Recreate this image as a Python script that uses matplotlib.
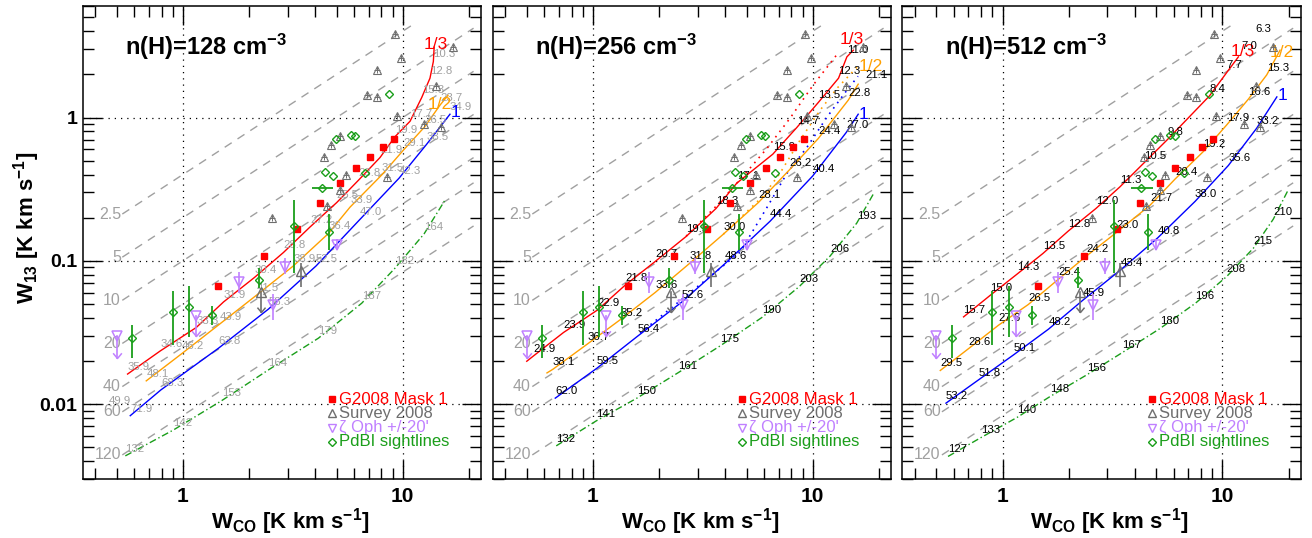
import numpy as np
import matplotlib
matplotlib.use("Agg")
import matplotlib.pyplot as plt
from matplotlib.path import Path
from matplotlib.ticker import LogLocator, NullFormatter, FuncFormatter

plt.rcParams["font.family"] = ["Liberation Sans", "DejaVu Sans"]
plt.rcParams["mathtext.fontset"] = "custom"
plt.rcParams["mathtext.rm"] = "Liberation Sans"
plt.rcParams["mathtext.it"] = "Liberation Sans:italic"
plt.rcParams["mathtext.bf"] = "Liberation Sans:bold"

DENSITIES = [128, 256, 512]
RATIOS = [2.5, 5, 10, 20, 40, 60, 120]

# observations (same in every panel)
G2008_WCO = [9.1, 8.1, 7.1, 6.1, 5.2, 4.2, 3.3, 2.35, 1.45]
G2008_W13 = [0.71, 0.62, 0.53, 0.445, 0.35, 0.254, 0.166, 0.108, 0.0665]

SURVEY_WCO = [9.2, 9.8, 7.6, 6.9, 7.6, 9.4, 5.2, 4.7, 4.4, 5.5, 8.5, 5.2, 4.5, 2.55,
              17.0, 14.2, 12.5, 14.9]
SURVEY_W13 = [3.85, 2.6, 2.15, 1.43, 1.38, 1.02, 0.745, 0.645, 0.53, 0.40, 0.385, 0.31,
              0.24, 0.20, 3.1, 1.65, 0.90, 0.855]
SURVEY_LIM_WCO = [2.26]
SURVEY_LIM_W13 = [0.061]
SURVEY_LIM_TIP = [0.044]
SURVEY_ERR_WCO = [3.44]
SURVEY_ERR_W13 = [0.085]
SURVEY_ERR_LO = [0.0657]
SURVEY_ERR_HI = [0.0962]

ZOPH_LIM_WCO = [0.50, 1.15]
ZOPH_LIM_W13 = [0.030, 0.041]
ZOPH_LIM_TIP = [0.021, 0.0297]
ZOPH_WCO = [1.79, 2.57, 2.92, 5.0]
ZOPH_W13 = [0.071, 0.049, 0.091, 0.128]
ZOPH_LO = [0.0594, 0.0385, 0.0815, 0.1186]
ZOPH_HI = [0.0836, 0.0591, 0.1038, 0.143]

PDBI_WCO = [0.586, 0.90, 1.07, 1.355, 2.21, 4.6, 3.2, 4.28, 6.7, 4.43, 4.8, 4.96, 5.8, 6.07, 8.7]
PDBI_W13 = [0.0287, 0.044, 0.0477, 0.0417, 0.074, 0.158, 0.174, 0.32, 0.41, 0.417, 0.39,
            0.71, 0.76, 0.74, 1.47]
PDBI_W13_LO = [0.0210, 0.0258, 0.0293, 0.0356, 0.0644, 0.1186, 0.0819, 0.32, 0.41, 0.417,
               0.39, 0.71, 0.76, 0.74, 1.47]
PDBI_W13_HI = [0.0359, 0.0614, 0.0665, 0.0482, 0.0888, 0.2138, 0.265, 0.32, 0.41, 0.417,
               0.39, 0.71, 0.76, 0.74, 1.47]
PDBI_WCO_LO = [0.586, 0.90, 1.07, 1.355, 2.21, 4.6, 3.2, 3.86, 6.7, 4.43, 4.8, 4.96, 5.8, 6.07, 8.7]
PDBI_WCO_HI = [0.586, 0.90, 1.07, 1.355, 2.21, 4.6, 3.2, 4.84, 6.7, 4.43, 4.8, 4.96, 5.8, 6.07, 8.7]

# model tracks: (W_CO, W_13, label)
RED_128 = [(0.560, 0.0162, "35.9"), (0.789, 0.0235, "34.6"), (1.149, 0.0342, "33.3"),
           (1.53, 0.0516, "31.9"), (2.116, 0.0765, "30.4"), (2.867, 0.1143, "28.8"),
           (3.79, 0.1724, "27.2"), (5.01, 0.2551, "25.5"), (6.29, 0.365, "23.8"),
           (7.885, 0.526, "21.9"), (9.22, 0.7345, "19.9"), (10.8, 0.942, "17.7"),
           (12.2, 1.379, "15.3"), (13.3, 1.88, "12.8"), (13.78, 2.459, "10.3"),
           (13.9, 3.1, "")]
ORANGE_128 = [(0.681, 0.01452, "48.1"), (0.99, 0.02254, "46.2"), (1.467, 0.0361, "43.9"),
              (2.17, 0.0578, "41.5"), (3.18, 0.0921, "38.9"), (4.59, 0.155, "36.4"),
              (5.76, 0.237, "33.9"), (8.03, 0.3976, "31.5"), (10.06, 0.591, "29.1"),
              (12.6, 0.863, "26.5"), (14.8, 1.224, "23.7"), (16.07, 1.43, "")]
BLUE_128 = [(0.576, 0.0083, "71.9"), (0.794, 0.01256, "68.3"), (1.452, 0.02455, "63.8"),
            (2.449, 0.046, "58.3"), (4.035, 0.0921, "52.5"), (6.40, 0.1951, "47.0"),
            (9.62, 0.377, "42.3"), (12.85, 0.651, "38.5"), (16.4, 1.054, "34.9")]
GREEN_128 = [(0.547, 0.00435, "132"), (0.906, 0.0066, "142"), (1.504, 0.01059, "153"),
             (2.449, 0.01732, "164"), (4.135, 0.02884, "179"), (6.51, 0.0506, "187"),
             (9.22, 0.0888, "182"), (12.5, 0.154, "164"), (15.57, 0.265, "")]
STRAY_128 = [(0.459, 0.00936, "49.9")]

RED_256 = [(0.50, 0.0199, ""), (0.537, 0.0217, "24.9"), (0.735, 0.0316, "23.9"),
           (1.046, 0.0452, "22.9"), (1.402, 0.0676, "21.8"), (1.92, 0.0989, "20.7"),
           (2.655, 0.1478, "19.5"), (3.63, 0.2317, "18.3"), (4.51, 0.3479, "17.1"),
           (6.58, 0.5545, "15.9"), (8.46, 0.851, "14.7"), (10.6, 1.273, "13.5"),
           (13.1, 1.88, "12.3"), (14.3, 2.65, "11.0"), (15.3, 2.95, "")]
ORANGE_256 = [(0.618, 0.0165, ""), (0.658, 0.01751, "38.1"), (0.942, 0.0262, "36.7"),
              (1.331, 0.0388, "35.2"), (1.92, 0.0601, "33.6"), (2.75, 0.0958, "31.8"),
              (3.92, 0.1533, "30.0"), (5.66, 0.2551, "28.1"), (7.83, 0.4309, "26.2"),
              (10.6, 0.7136, "24.4"), (14.5, 1.32, "22.8"), (16.1, 1.708, "")]
BLUE_256 = [(0.674, 0.0110, "62.0"), (1.043, 0.0178, "59.5"), (1.598, 0.0298, "56.4"),
            (2.54, 0.0516, "52.6"), (3.996, 0.0958, "48.6"), (6.40, 0.189, "44.4"),
            (10.0, 0.391, "40.4"), (14.2, 0.786, "27.0"), (16.1, 1.054, "")]
GREEN_256 = [(0.681, 0.00511, "132"), (1.035, 0.00763, "141"), (1.585, 0.0110, "150"),
             (2.449, 0.0166, "161"), (3.79, 0.02547, "175"), (5.87, 0.0402, "190"),
             (8.69, 0.0662, "203"), (11.98, 0.1077, "206"), (15.85, 0.183, "193"),
             (19.0, 0.298, "")]
RED_DOT_256 = [(2.655, 0.1485), (3.635, 0.2404), (4.82, 0.389), (6.20, 0.6105),
               (7.885, 0.989), (10.03, 1.68), (13.03, 2.81)]
ORANGE_DOT_256 = [(3.92, 0.1533), (5.94, 0.2823), (7.10, 0.4087), (8.75, 0.694),
                  (10.8, 1.124), (12.9, 1.60), (15.9, 2.244)]
BLUE_DOT_256 = [(1.64, 0.0313), (4.67, 0.1148), (6.20, 0.2366), (7.64, 0.4087),
                (9.42, 0.6205), (11.6, 1.005), (14.3, 1.55), (16.07, 1.94)]
STRAY_256 = [(17.3, 1.755, "21.1")]

RED_512 = [(0.665, 0.0406, "15.7"), (0.879, 0.0574, "15.0"), (1.163, 0.0806, "14.3"),
           (1.526, 0.1124, "13.5"), (1.995, 0.1617, "12.8"), (2.66, 0.2317, "12.0"),
           (3.415, 0.3273, "11.3"), (4.40, 0.482, "10.5"), (5.65, 0.706, "9.8"),
           (8.74, 1.415, "8.4"), (10.47, 2.06, "7.7"), (11.83, 2.65, "")]
ORANGE_512 = [(0.521, 0.01716, "29.5"), (0.700, 0.02435, "28.6"), (0.959, 0.03553, "27.6"),
              (1.309, 0.0495, "26.5"), (1.791, 0.0741, "25.4"), (2.418, 0.1085, "24.2"),
              (3.31, 0.1583, "23.0"), (4.69, 0.2443, "21.7"), (6.10, 0.3723, "20.4"),
              (8.20, 0.579, "19.2"), (10.47, 0.888, "17.9"), (13.13, 1.342, "16.6"),
              (15.92, 1.983, "15.3"), (18.3, 2.95, "")]
BLUE_512 = [(0.553, 0.01015, "53.2"), (0.778, 0.01476, "51.8"), (1.122, 0.02204, "50.1"),
            (1.618, 0.03332, "48.2"), (2.327, 0.0533, "45.9"), (3.446, 0.0864, "43.4"),
            (5.08, 0.1445, "40.8"), (7.51, 0.2594, "38.0"), (10.65, 0.4624, "35.6"),
            (14.33, 0.842, "33.2"), (17.7, 1.392, "")]
GREEN_512 = [(0.565, 0.00431, "127"), (0.800, 0.00585, "133"), (1.163, 0.00806, "140"),
             (1.647, 0.0113, "148"), (2.418, 0.0160, "156"), (3.512, 0.02291, "167"),
             (5.21, 0.0337, "180"), (7.55, 0.0506, "196"), (10.47, 0.0777, "208"),
             (13.84, 0.1224, "215"), (17.05, 0.1951, "210"), (19.83, 0.3074, "")]
STRAY_512 = [(12.25, 2.84, "7.0"), (14.08, 3.71, "6.3")]

RED = "#ff0000"
ORANGE = "#ffa000"
BLUE = "#0000ff"
GREEN = "#1a9e1a"
VIOLET = "#c080ff"
SURVEY = "#6e6e6e"
GUIDE = "#a0a0a0"

CHEVRON = Path([(-1.0, 1.2), (0.0, 0.0), (1.0, 1.2)], [Path.MOVETO, Path.LINETO, Path.LINETO])


def draw_track(ax, pts, color, labcolor, ls="-", tag=None, tag_off=(0, 0)):
    xs = [p[0] for p in pts]
    ys = [p[1] for p in pts]
    ax.plot(xs, ys, color=color, lw=1.0, ls=ls, zorder=3)
    for x, y, lab in pts:
        if lab:
            ax.annotate(lab, (x, y), xytext=(0, 2.9), textcoords="offset points",
                        ha="left", va="baseline", fontsize=8.2, color=labcolor, zorder=4)
    if tag:
        ax.annotate(tag, (xs[-1], ys[-1]), xytext=tag_off, textcoords="offset points",
                    ha="center", va="center", fontsize=12.5, color=color, zorder=4)


def draw_limits(ax, xs, ys, tips, color, ms):
    for x, y, t in zip(xs, ys, tips):
        ax.plot([x, x], [y, t], color=color, lw=1.2, zorder=5)
    ax.plot(xs, tips, ls="none", marker=CHEVRON, ms=ms, mfc="none", mec=color, mew=1.1, zorder=5)


def draw_observations(ax):
    ax.plot(G2008_WCO, G2008_W13, "s", color=RED, ms=4.3, zorder=6)
    ax.plot(SURVEY_WCO, SURVEY_W13, "^", mfc="none", mec=SURVEY, ms=5.6, mew=0.8, zorder=6)
    ax.plot(SURVEY_WCO, SURVEY_W13, "+", color=SURVEY, ms=4, mew=0.7, zorder=6)

    ax.plot(SURVEY_LIM_WCO, SURVEY_LIM_W13, "^", mfc="none", mec=SURVEY, ms=7, mew=1.0, zorder=6)
    draw_limits(ax, SURVEY_LIM_WCO, SURVEY_LIM_W13, SURVEY_LIM_TIP, SURVEY, 7)
    se = np.array(SURVEY_ERR_W13)
    ax.errorbar(SURVEY_ERR_WCO, se, yerr=[se - np.array(SURVEY_ERR_LO), np.array(SURVEY_ERR_HI) - se],
                fmt="^", mfc="none", mec=SURVEY, ms=7, mew=1.0, ecolor=SURVEY, elinewidth=1.2,
                capsize=0, zorder=6)

    ax.plot(ZOPH_LIM_WCO, ZOPH_LIM_W13, "v", mfc="none", mec=VIOLET, ms=7.5, mew=1.1, zorder=6)
    draw_limits(ax, ZOPH_LIM_WCO, ZOPH_LIM_W13, ZOPH_LIM_TIP, VIOLET, 7.5)
    zw = np.array(ZOPH_W13)
    ax.errorbar(ZOPH_WCO, zw, yerr=[zw - np.array(ZOPH_LO), np.array(ZOPH_HI) - zw],
                fmt="v", mfc="none", mec=VIOLET, ms=7.5, mew=1.1, ecolor=VIOLET, elinewidth=1.2,
                capsize=0, zorder=6)

    pw = np.array(PDBI_W13)
    px = np.array(PDBI_WCO)
    ax.errorbar(px, pw, yerr=[pw - np.array(PDBI_W13_LO), np.array(PDBI_W13_HI) - pw],
                xerr=[px - np.array(PDBI_WCO_LO), np.array(PDBI_WCO_HI) - px],
                fmt="D", mfc="none", mec=GREEN, ms=4.5, mew=1.0, ecolor=GREEN, elinewidth=1.3,
                capsize=0, zorder=6)


def draw_legend(ax):
    entries = [("G2008 Mask 1", "s", RED, RED, 4.3),
               ("Survey 2008", "^", SURVEY, "none", 5.6),
               ("\u03b6 Oph +/-20'", "v", VIOLET, "none", 5.6),
               ("PdBI sightlines", "D", GREEN, "none", 4.0)]
    for i, (txt, mk, col, fc, ms) in enumerate(entries):
        yy = 0.169 - 0.0302 * i
        ax.plot([0.627], [yy], marker=mk, mfc=fc, mec=col, ms=ms, mew=1.0,
                transform=ax.transAxes, clip_on=False, zorder=7)
        ax.text(0.6435, yy, txt, color=col, fontsize=12, ha="left", va="center",
                transform=ax.transAxes, zorder=7)


fig = plt.figure(figsize=(13.12, 5.38), dpi=100)
W, H = 1312.0, 538.0
lefts = [82.7, 492.7, 902.3]

panels = [
    (RED_128, ORANGE_128, BLUE_128, GREEN_128, None, STRAY_128, GUIDE,
     [(1, 2), (-6, -7), (4, 1)]),
    (RED_256, ORANGE_256, BLUE_256, GREEN_256, (RED_DOT_256, ORANGE_DOT_256, BLUE_DOT_256),
     STRAY_256, "black", [(-1, 7.5), (9, 13), (4, 0)]),
    (RED_512, ORANGE_512, BLUE_512, GREEN_512, None, STRAY_512, "black",
     [(3, 3.5), (1, -2), (4, 1)]),
]

for i, (dens, left) in enumerate(zip(DENSITIES, lefts)):
    red, orange, blue, green, dots, stray, labcol, tag_offs = panels[i]
    ax = fig.add_axes([left / W, 59.0 / H, 398.3 / W, 473.0 / H])
    ax.set_xscale("log")
    ax.set_yscale("log")
    ax.set_xlim(0.35, 22.7)
    ax.set_ylim(0.003, 6.0)

    for axis in (ax.xaxis, ax.yaxis):
        axis.set_major_locator(LogLocator(base=10, numticks=10))
        axis.set_minor_locator(LogLocator(base=10, subs=np.arange(2, 10), numticks=40))
        axis.set_minor_formatter(NullFormatter())
        axis.set_major_formatter(FuncFormatter(lambda v, p: f"{v:g}"))
    ax.tick_params(which="both", direction="in", top=True, right=True, width=1.0)
    ax.tick_params(which="major", length=14)
    ax.tick_params(which="minor", length=8)
    ax.tick_params(axis="x", which="major", labelsize=15, pad=6)
    ax.tick_params(axis="y", which="major", labelsize=14, pad=4)
    for lab in ax.get_xticklabels() + ax.get_yticklabels():
        lab.set_fontweight("bold")
    if i > 0:
        ax.tick_params(axis="y", labelleft=False)
    for sp in ax.spines.values():
        sp.set_linewidth(1.1)
    ax.grid(True, which="major", color="black", lw=0.9, ls=(0, (1, 4)))
    ax.set_axisbelow(False)

    # constant W_CO / W_13 guides
    for r in RATIOS:
        xs = np.array([0.53, min(21.0, 4.4 * r)])
        ax.plot(xs, xs / r, color=GUIDE, lw=1.0, ls=(0, (6, 5)), zorder=2)
        ax.annotate(f"{r:g}", (xs[0], xs[0] / r), xytext=(-1, 0), textcoords="offset points",
                    ha="right", va="center", fontsize=11.5, color=GUIDE, zorder=2)

    draw_track(ax, green, GREEN, labcol, ls=(0, (5, 2, 1, 2)))
    if dots:
        for pts, col in zip(dots, (RED, ORANGE, BLUE)):
            ax.plot([p[0] for p in pts], [p[1] for p in pts], color=col, lw=1.2,
                    ls=(0, (1, 3)), zorder=3)
    draw_track(ax, red, RED, labcol, tag="1/3", tag_off=tag_offs[0])
    draw_track(ax, orange, ORANGE, labcol, tag="1/2", tag_off=tag_offs[1])
    draw_track(ax, blue, BLUE, labcol, tag="1", tag_off=tag_offs[2])
    for x, y, lab in stray:
        ax.annotate(lab, (x, y), xytext=(0, 2.9), textcoords="offset points",
                    ha="left", va="baseline", fontsize=8.2, color=labcol, zorder=4)

    draw_observations(ax)
    draw_legend(ax)

    ax.text(0.106, 0.896, rf"n(H)={dens} cm$^{{\mathbf{{-3}}}}$", transform=ax.transAxes,
            fontsize=17, fontweight="bold", ha="left", va="baseline")
    ax.text(0.52, -0.1036, r"$\mathbf{W}_{\mathbf{CO}}$ [K km s$^{\mathbf{-1}}$]",
            transform=ax.transAxes, fontsize=16, fontweight="bold", ha="center", va="baseline")
    if i == 0:
        ax.text(-0.14, 0.531, r"$\mathbf{W}_{\mathbf{13}}$ [K km s$^{\mathbf{-1}}$]",
                transform=ax.transAxes, fontsize=16, fontweight="bold", rotation=90,
                ha="center", va="center")

fig.savefig("out.png", dpi=100)
